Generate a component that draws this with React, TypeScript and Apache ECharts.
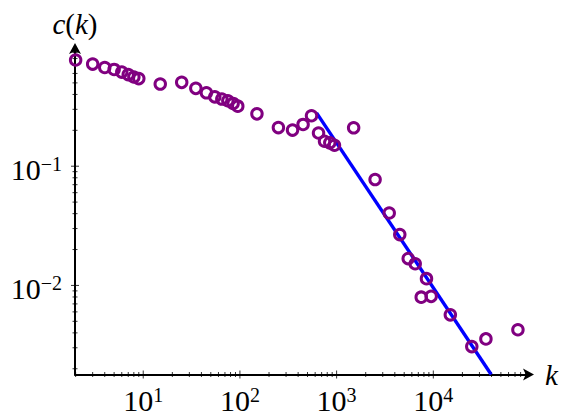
import React, { useEffect, useRef } from 'react';
import * as echarts from 'echarts';

// degree k (bin centres) and clustering coefficient c(k)
const degrees = [2, 3, 4, 5, 6, 7, 8, 9, 15, 25, 35, 45, 55, 65, 75, 85, 95, 150, 250, 350, 450, 550, 650, 750, 850, 950, 1500, 2500, 3500, 4500, 5500, 6500, 7500, 8500, 9500, 15000, 25000, 35000, 75000];
const clustering = [0.778, 0.719, 0.673, 0.648, 0.616, 0.587, 0.56, 0.543, 0.489, 0.505, 0.45, 0.413, 0.382, 0.366, 0.354, 0.336, 0.319, 0.275, 0.211, 0.201, 0.224, 0.265, 0.19, 0.162, 0.157, 0.15, 0.21, 0.0773, 0.0405, 0.0267, 0.0168, 0.0152, 0.00797, 0.0114, 0.0081, 0.00567, 0.00307, 0.00356, 0.00425];

// power-law fit line endpoints
const fitK = [620, 39700];
const fitC = [0.28, 0.00179];

// axes
const xMin = 1.97;
const xMax = 100000;
const yMin = 0.00179;
const yMax = 1;
const xTickLabels = [10, 100, 1000, 10000];
const yTickLabels = [0.01, 0.1];
const xDecades = [1, 10, 100, 1000, 10000];
const yDecades = [0.001, 0.01, 0.1];
const minorMultipliers = [2, 3, 4, 5, 6, 7, 8, 9];

const FONT = "'Liberation Serif', 'Times New Roman', serif";
const PURPLE = '#800080';

function supLabel(v: number) {
  const e = Math.round(Math.log10(v));
  const s = e < 0 ? '\u2212' + Math.abs(e) : String(e);
  return `{b|10}{s|${s}}`;
}

const labelRich = {
  b: { fontSize: 30, fontFamily: FONT, color: '#000', lineHeight: 32 },
  s: { fontSize: 20, fontFamily: FONT, color: '#000', lineHeight: 20, verticalAlign: 'top' },
};

export default function App() {
  const ref = useRef<HTMLDivElement>(null);
  useEffect(() => {
    if (!ref.current) return;
    const chart = echarts.init(ref.current, null, { renderer: 'svg' });

    const tickData: number[][] = [];
    xTickLabels.forEach((v) => tickData.push([v, yMin, 0]));
    xDecades.forEach((d) =>
      minorMultipliers.forEach((m) => {
        const v = d * m;
        if (v > xMin && v < xMax) tickData.push([v, yMin, 1]);
      })
    );
    yTickLabels.forEach((v) => tickData.push([xMin, v, 2]));
    yDecades.forEach((d) =>
      minorMultipliers.forEach((m) => {
        const v = d * m;
        if (v > yMin && v < yMax) tickData.push([xMin, v, 3]);
      })
    );

    chart.setOption({
      animation: false,
      backgroundColor: '#fff',
      textStyle: { fontFamily: FONT },
      grid: { left: 75, right: 41, top: 47, bottom: 43.5, outerBoundsMode: 'none' },
      xAxis: {
        type: 'log',
        min: xMin,
        max: xMax,
        logBase: 10,
        name: '{i|k}',
        nameLocation: 'end',
        nameGap: 15,
        nameTextStyle: {
          verticalAlign: 'middle',
          fontFamily: FONT,
          fontSize: 29,
          rich: { i: { fontSize: 29, fontFamily: FONT, fontStyle: 'italic', color: '#000' } },
        },
        axisLine: {
          onZero: false,
          symbol: ['none', 'arrow'],
          symbolSize: [9, 11],
          symbolOffset: [0, 4],
          lineStyle: { color: '#000', width: 2 },
        },
        axisTick: { show: false },
        minorTick: { show: false },
        splitLine: { show: false },
        axisLabel: {
          customValues: xTickLabels,
          margin: 10,
          fontFamily: FONT,
          fontSize: 30,
          color: '#000',
          formatter: (v: number) => supLabel(v),
          rich: labelRich,
        },
      },
      yAxis: {
        type: 'log',
        min: yMin,
        max: yMax,
        logBase: 10,
        name: '{i|c}{n|(}{i|k}{n|)}',
        nameLocation: 'end',
        nameGap: 9,
        nameTextStyle: {
          align: 'center',
          fontFamily: FONT,
          fontSize: 29,
          rich: {
            i: { fontSize: 29, fontFamily: FONT, fontStyle: 'italic', color: '#000' },
            n: { fontSize: 29, fontFamily: FONT, color: '#000' },
          },
        },
        axisLine: {
          onZero: false,
          symbol: ['none', 'arrow'],
          symbolSize: [9, 11],
          symbolOffset: [0, 4],
          lineStyle: { color: '#000', width: 2 },
        },
        axisTick: { show: false },
        minorTick: { show: false },
        splitLine: { show: false },
        axisLabel: {
          customValues: yTickLabels,
          margin: 13,
          padding: [7, 0, 0, 0],
          fontFamily: FONT,
          fontSize: 30,
          color: '#000',
          formatter: (v: number) => supLabel(v),
          rich: labelRich,
        },
      },
      series: [
        {
          type: 'custom',
          silent: true,
          clip: false,
          z: 1,
          data: tickData,
          encode: { x: 0, y: 1 },
          renderItem: (params: any, api: any) => {
            const kind = api.value(2);
            const p = api.coord([api.value(0), api.value(1)]);
            const len = kind % 2 === 0 ? 4 : 2.5;
            const shape =
              kind < 2
                ? { x1: p[0], y1: p[1] - len, x2: p[0], y2: p[1] + len }
                : { x1: p[0] - len, y1: p[1], x2: p[0] + len, y2: p[1] };
            return { type: 'line', shape, style: { stroke: '#000', lineWidth: 0.8 } };
          },
        },
        {
          type: 'line',
          data: fitK.map((k, i) => [k, fitC[i]]),
          symbol: 'none',
          lineStyle: { color: '#0000ff', width: 3.4, opacity: 1 },
          z: 2,
        },
        {
          type: 'scatter',
          data: degrees.map((k, i) => [k, clustering[i]]),
          symbol: 'circle',
          symbolSize: 10.5,
          itemStyle: { color: 'rgba(255,255,255,0)', borderColor: PURPLE, borderWidth: 3, opacity: 1 },
          z: 3,
        },
      ],
    });
    return () => chart.dispose();
  }, []);
  return <div ref={ref} style={{ position: 'fixed', left: 0, top: 0, width: 571, height: 418 }} />;
}
